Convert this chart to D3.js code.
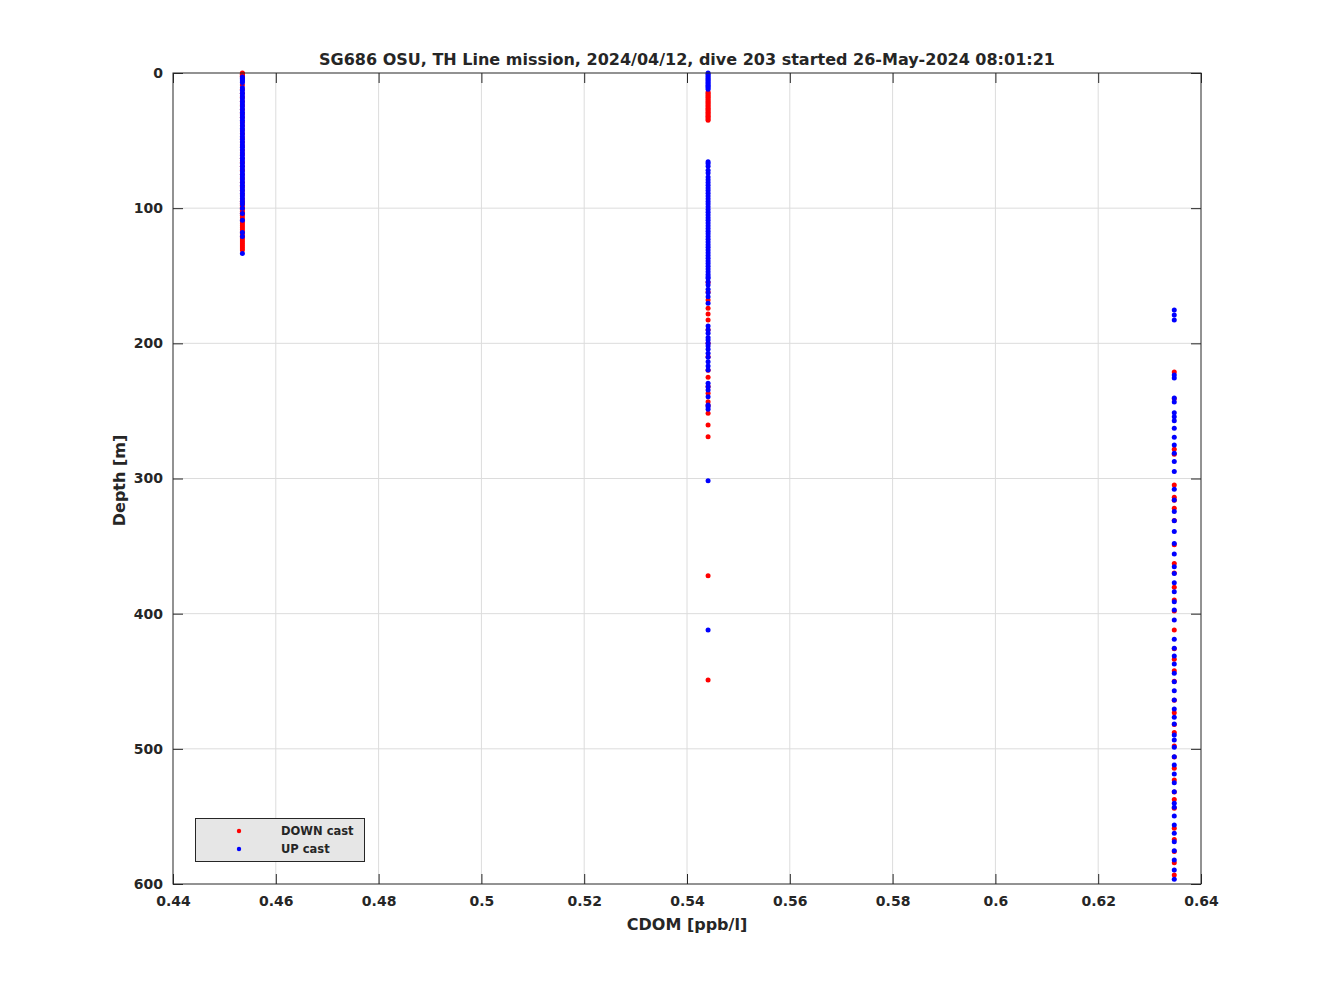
<!DOCTYPE html>
<html><head><meta charset="utf-8">
<script src="https://cdn.jsdelivr.net/npm/d3@7"></script>
<style>
body{margin:0;background:#fff;}
text{font-family:"DejaVu Sans",sans-serif;font-weight:bold;fill:#262626;}
</style></head>
<body><svg id="chart" width="1328" height="996"></svg>
<script>
const title = "SG686 OSU, TH Line mission, 2024/04/12, dive 203 started 26-May-2024 08:01:21";
const xLabel = "CDOM [ppb/l]";
const yLabel = "Depth [m]";
const xTicks = [0.44,0.46,0.48,0.5,0.52,0.54,0.56,0.58,0.6,0.62,0.64];
const yTicks = [0,100,200,300,400,500,600];
const cdomLevels = [0.4535, 0.5441, 0.6348];

// DOWN cast depths per CDOM level
const down1 = [0,0.5,1,1.5,2,2.5,3,8.9,12,15,18,21,24,27,30,33,36,39,42,45,48,51,54,57,60,63,66,69,72,75,78,81,84,87,90,93,95,96.5,98,99.5,101,102.5,104,105.5,107,108.5,110,111.5,113,114.5,116,117.5,119,120.5,122,123.5,125,126.5,128,129.5,131];
const down2 = [14,15,16,17,18,19,20,21,22,23,24,25,26,27,28,29,30,31,32,33,34,35,155,162,167.9,174.1,178.3,182.7,190,200,210,220,225.1,232,237,243.2,246,251.8,260.4,269.1,371.9,449.1];
const down3 = [221.2,241,278.4,282,304.8,313.9,316,322.1,331,349,362.8,370,380.5,389.9,398,412.1,426,433.8,442.2,450,464,473.3,482,488,497.9,506,514.4,523,532,537.4,544,558.8,567,576,584.2,593.4];

// UP cast depths per CDOM level
const up1 = [3,4,5,6,7,11,13,15,17,19,21,23,25,27,29,31,33,35,37,39,41,43,45,47,49,51,53,55,57,59,61,63,65,67,69,71,73,75,77,79,81,83,85,87,89,91,93,95,97,100,104,109,118,121,133.5];
const up2 = [0,1,2,3,4,5,6,7,8,9,10,11,12,65.6,67,69,72,74,77,79,81,83,85,87,89,91,93,95,97,99,101,103,105,107,109,111,113,115,117,119,121,123,125,127,129,131,133,135,137,139,141,143,145,147,149,150.7,151.9,154.4,156.8,160,162.5,165.5,170.4,187.2,190.1,192.6,195.6,197.5,200,202,204.4,207.4,210.3,213.6,216.8,219.7,229.6,232.1,234.5,239.5,245.6,246.9,248.8,301.6,412.1];
const up3 = [175.3,179,182.7,223.4,225.6,240.4,243.4,251.3,254.3,257.2,262.9,269.5,275.2,281.4,287.5,294.9,308,315.9,324.5,331.2,339.3,348,355.9,365.2,370.2,377.1,383.7,391.1,397.3,404.7,419,425.6,431.3,437.2,444.1,450.3,457,463.9,470.5,476.7,481.6,489.8,493.5,498.9,505.8,512,518.6,525,531.7,540.3,543.3,549.7,556.3,562.5,568.7,575.4,582.2,589.6,596.5];

const downSets = [down1, down2, down3];
const upSets = [up1, up2, up3];

const svg = d3.select("#chart");
const L = 173, R = 1201, T = 73, B = 884;
const x = d3.scaleLinear().domain([0.44, 0.64]).range([L, R]);
const y = d3.scaleLinear().domain([0, 600]).range([T, B]);

// grid
const g = svg.append("g");
g.selectAll(".gx").data(xTicks.slice(1, -1)).enter().append("line")
  .attr("x1", d => x(d)).attr("x2", d => x(d)).attr("y1", T).attr("y2", B)
  .attr("stroke", "#dcdcdc").attr("stroke-width", 1);
g.selectAll(".gy").data(yTicks.slice(1, -1)).enter().append("line")
  .attr("y1", d => y(d)).attr("y2", d => y(d)).attr("x1", L).attr("x2", R)
  .attr("stroke", "#dcdcdc").attr("stroke-width", 1);

// points
const pts = svg.append("g");
downSets.forEach((arr, i) => {
  pts.selectAll(null).data(arr).enter().append("circle")
    .attr("cx", x(cdomLevels[i])).attr("cy", d => y(d)).attr("r", 2.5).attr("fill", "#ff0000");
});
upSets.forEach((arr, i) => {
  pts.selectAll(null).data(arr).enter().append("circle")
    .attr("cx", x(cdomLevels[i])).attr("cy", d => y(d)).attr("r", 2.5).attr("fill", "#0000ff");
});

// axes
const tickLen = 10;
const xb = svg.append("g").attr("transform", `translate(0,${B})`)
  .call(d3.axisBottom(x).tickValues(xTicks).tickSizeInner(-tickLen).tickSizeOuter(0).tickPadding(12).tickFormat(d3.format("")));
const xt = svg.append("g").attr("transform", `translate(0,${T})`)
  .call(d3.axisTop(x).tickValues(xTicks).tickSizeInner(-tickLen).tickSizeOuter(0).tickFormat(""));
const yl = svg.append("g").attr("transform", `translate(${L},0)`)
  .call(d3.axisLeft(y).tickValues(yTicks).tickSizeInner(-tickLen).tickSizeOuter(0).tickPadding(10));
const yr = svg.append("g").attr("transform", `translate(${R},0)`)
  .call(d3.axisRight(y).tickValues(yTicks).tickSizeInner(-tickLen).tickSizeOuter(0).tickFormat(""));
[xb, xt, yl, yr].forEach(a => {
  a.select(".domain").remove();
  a.selectAll(".tick line").attr("stroke", "#262626");
  a.selectAll("text").style("font-size", "14px").style("font-family", "DejaVu Sans").style("font-weight", "bold").attr("fill", "#262626");
});
svg.append("rect").attr("x", L).attr("y", T).attr("width", R - L).attr("height", B - T)
  .attr("fill", "none").attr("stroke", "#262626").attr("stroke-width", 1);

// labels
svg.append("text").attr("x", (L + R) / 2).attr("y", 65).attr("text-anchor", "middle")
  .style("font-size", "16px").attr("fill", "#000").text(title);
svg.append("text").attr("x", (L + R) / 2).attr("y", 930).attr("text-anchor", "middle")
  .style("font-size", "16px").text(xLabel);
svg.append("text").attr("transform", `translate(125,${(T + B) / 2 + 2}) rotate(-90)`).attr("text-anchor", "middle")
  .style("font-size", "16px").text(yLabel);

// legend
const lg = svg.append("g");
lg.append("rect").attr("x", 195.5).attr("y", 818.5).attr("width", 169).attr("height", 43)
  .attr("fill", "#e6e6e6").attr("stroke", "#262626").attr("stroke-width", 1);
const legendItems = [{label: "DOWN cast", color: "#ff0000"}, {label: "UP cast", color: "#0000ff"}];
legendItems.forEach((it, i) => {
  const cy = 831 + i * 18;
  lg.append("circle").attr("cx", 239).attr("cy", cy).attr("r", 2.2).attr("fill", it.color);
  lg.append("text").attr("x", 281).attr("y", cy + 4).style("font-size", "11.5px").attr("fill", "#000").text(it.label);
});
</script></body></html>
